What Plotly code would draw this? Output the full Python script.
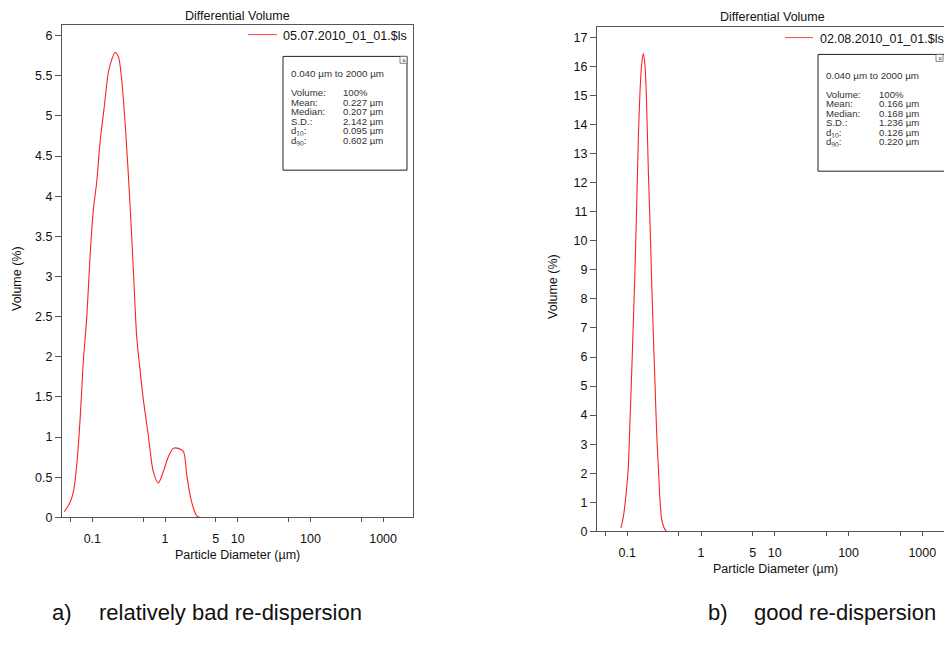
import math
import plotly.graph_objects as go

W, H = 944, 657

# ---------------- data ----------------
title_text = "Differential Volume"
x_title = "Particle Diameter (µm)"
y_title = "Volume (%)"

# sample a) 05.07.2010_01_01.$ls
a_name = "05.07.2010_01_01.$ls"
a_diam = [0.041, 0.049, 0.055, 0.061, 0.068, 0.075, 0.084, 0.093, 0.103, 0.115, 0.128,
          0.145, 0.166, 0.185, 0.205, 0.228, 0.253, 0.288, 0.330, 0.367, 0.408, 0.453,
          0.503, 0.589, 0.69, 0.809, 0.948, 1.11, 1.30, 1.52, 1.79, 1.99, 2.21, 2.45,
          2.73, 3.03]
a_vol = [0.07, 0.18, 0.32, 0.65, 1.23, 1.93, 2.50, 3.24, 3.82, 4.18, 4.68,
         5.09, 5.54, 5.70, 5.79, 5.74, 5.46, 4.80, 3.90, 3.08, 2.25, 1.84,
         1.47, 1.02, 0.57, 0.43, 0.57, 0.755, 0.86, 0.86, 0.82, 0.53, 0.28, 0.12,
         0.02, 0.0]
a_stats_labels = ["Volume:", "Mean:", "Median:", "S.D.:", "d<sub>10</sub>:", "d<sub>90</sub>:"]
a_stats_values = ["100%", "0.227 µm", "0.207 µm", "2.142 µm", "0.095 µm", "0.602 µm"]
a_caption = ["a)", "relatively bad re-dispersion"]

# sample b) 02.08.2010_01_01.$ls
b_name = "02.08.2010_01_01.$ls"
b_diam = [0.082, 0.088, 0.096, 0.103, 0.109, 0.115, 0.121, 0.127, 0.134, 0.141, 0.149,
          0.157, 0.165, 0.174, 0.183, 0.193, 0.203, 0.215, 0.226, 0.238, 0.251, 0.264,
          0.278, 0.293, 0.315, 0.336]
b_vol = [0.12, 0.47, 1.26, 2.17, 3.87, 5.57, 7.27, 8.98, 11.23, 13.5, 15.2,
         16.1, 16.45, 16.0, 14.63, 12.37, 10.67, 8.40, 6.70, 5.0, 3.30, 2.17,
         1.03, 0.41, 0.12, 0.01]
b_stats_labels = ["Volume:", "Mean:", "Median:", "S.D.:", "d<sub>10</sub>:", "d<sub>90</sub>:"]
b_stats_values = ["100%", "0.166 µm", "0.168 µm", "1.236 µm", "0.126 µm", "0.220 µm"]
b_caption = ["b)", "good re-dispersion"]

range_text = "0.040 µm to 2000 µm"
x_major = [0.1, 1, 5, 10, 100, 1000]
x_major_text = ["0.1", "1", "5", "10", "100", "1000"]
x_minor = [0.05, 0.5, 50, 500]
a_yticks = [i * 0.5 for i in range(13)]
b_yticks = list(range(18))

# ---------------- helpers ----------------
FONT = "Liberation Sans, Arial, sans-serif"


def px(p):
    return p / W


def py(p):
    return 1 - p / H


fig = go.Figure()
fig.add_trace(go.Scatter(x=a_diam, y=a_vol, mode="lines", name=a_name,
                         line=dict(color="#ff2020", width=1.1, shape="spline", smoothing=0.8),
                         xaxis="x", yaxis="y", showlegend=False))
fig.add_trace(go.Scatter(x=b_diam, y=b_vol, mode="lines", name=b_name,
                         line=dict(color="#ff2020", width=1.1, shape="spline", smoothing=0.8),
                         xaxis="x2", yaxis="y2", showlegend=False))

axis_common = dict(showgrid=False, zeroline=False, showline=True, linecolor="#555555",
                   linewidth=1, ticks="outside", tickcolor="#555555",
                   tickfont=dict(family=FONT, size=12.5, color="#111111"))
minor_x = dict(tickmode="array", tickvals=x_minor, ticks="outside", ticklen=4,
               tickcolor="#555555", showgrid=False)

fig.update_layout(
    width=W, height=H, margin=dict(l=0, r=0, t=0, b=0),
    paper_bgcolor="white", plot_bgcolor="white",
    font=dict(family=FONT, color="#111111"),
    xaxis=dict(axis_common, type="log", domain=[px(62), px(413)],
               range=[-1.417, 3.411], tickmode="array", tickvals=x_major,
               ticktext=x_major_text, ticklen=4, ticklabelstandoff=6,
               minor=minor_x, mirror=True, anchor="y"),
    yaxis=dict(axis_common, domain=[py(523), py(25)], range=[0, 6.135],
               tickmode="array", tickvals=a_yticks, ticklen=6, mirror=True, anchor="x"),
    xaxis2=dict(axis_common, type="log", domain=[px(597), 1.0],
                range=[-1.411, 3.294], tickmode="array", tickvals=x_major,
                ticktext=x_major_text, ticklen=4, ticklabelstandoff=6,
                minor=minor_x, mirror=True, anchor="y2"),
    yaxis2=dict(axis_common, domain=[py(537), py(27.7)], range=[0, 17.35],
                tickmode="array", tickvals=b_yticks, ticklen=6, mirror=False, anchor="x2"),
)

ann = []
shapes = []


def text(x, y, s, size=12, xanchor="center", yanchor="middle", color="#111111", angle=0,
         height=None):
    d = dict(x=px(x), y=py(y), xref="paper", yref="paper", text=s, showarrow=False,
             xanchor=xanchor, yanchor=yanchor, textangle=angle,
             font=dict(family=FONT, size=size, color=color))
    if height is not None:
        d["height"] = height
        d["borderpad"] = 0
    ann.append(d)


# titles
text(237, 16, title_text, 12.5)
text(772, 17, title_text, 12.5)
# axis titles
text(237, 561, x_title, 12.5)
text(775, 575, x_title, 12.5)
text(17, 282, y_title, 12.5, angle=-90)
text(553, 290, y_title, 12.5, angle=-90)

# legends (line sample + name)
shapes.append(dict(type="line", xref="paper", yref="paper", x0=px(248), x1=px(277),
                   y0=py(35), y1=py(35), line=dict(color="#ff4040", width=1)))
text(281, 36, a_name, 12.5, xanchor="left")
shapes.append(dict(type="line", xref="paper", yref="paper", x0=px(785), x1=px(813),
                   y0=py(38), y1=py(38), line=dict(color="#ff4040", width=1)))
text(818, 39, b_name, 12.5, xanchor="left")


def info_box(x0, y0, x1, y1, cx1, tx, vx, ty, rows_y0, labels, values):
    shapes.append(dict(type="rect", xref="paper", yref="paper", x0=px(x0), x1=px(x1),
                       y0=py(y0), y1=py(y1), line=dict(color="#222222", width=1),
                       fillcolor="white", layer="above"))
    # close button
    shapes.append(dict(type="rect", xref="paper", yref="paper", x0=px(cx1 - 7), x1=px(cx1),
                       y0=py(y0), y1=py(y0 + 7), line=dict(color="#666666", width=0.8),
                       fillcolor="white", layer="above"))
    text(cx1 - 3.5, y0 + 3.5, "×", 7, color="#444444", height=6)
    text(tx, ty, range_text, 9.8, xanchor="left", color="#333333", height=11)
    for i, (lab, val) in enumerate(zip(labels, values)):
        yy = rows_y0 + i * 9.6
        text(tx, yy, lab, 9.6, xanchor="left", color="#333333", height=9.4)
        text(vx, yy, val, 9.6, xanchor="left", color="#333333", height=9.4)


info_box(283, 57, 407, 172, 407, 290, 341.5, 74, 94, a_stats_labels, a_stats_values)
info_box(818, 55, 951, 173, 943, 825, 878, 76.5, 95.5, b_stats_labels, b_stats_values)
# captions
text(50, 619, a_caption[0], 22, xanchor="left")
text(97, 619, a_caption[1], 22, xanchor="left")
text(706, 619, b_caption[0], 22, xanchor="left")
text(752, 619, b_caption[1], 22, xanchor="left")

fig.update_layout(annotations=ann, shapes=shapes)
fig.write_html("out.html")
